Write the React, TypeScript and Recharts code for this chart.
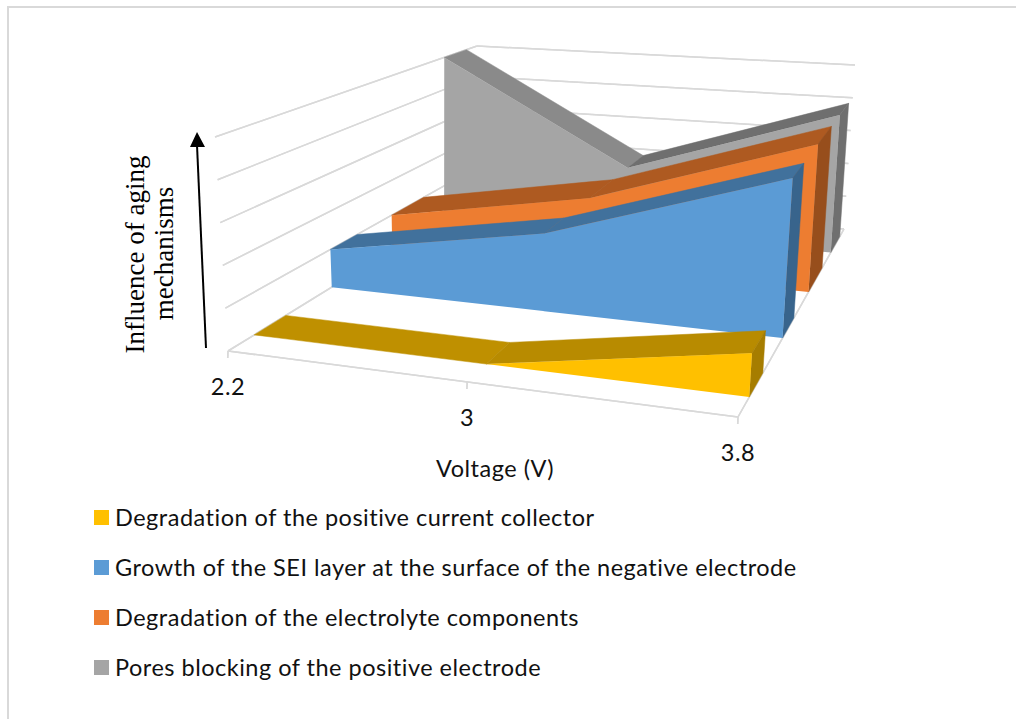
import { Area, ComposedChart, Legend, Line, ReferenceDot, XAxis, YAxis } from 'recharts'

const WIDTH = 1016
const HEIGHT = 719

// values
const voltages = ['2.2', '3', '3.8']
const collector = [0, 0, 1]
const sei = [1, 2, 4]
const electrolyte = [1, 2, 4]
const pores = [5, 2, 4]
const valueTicks = [0, 1, 2, 3, 4, 5]

const legendNames = [
  'Degradation of the positive current collector',
  'Growth of the SEI layer at the surface of the negative electrode',
  'Degradation of the electrolyte components',
  'Pores blocking of the positive electrode',
]

// camera: where the 3D box lands in the picture
const MAX_VALUE = 5
const FLOOR = { fl: [228, 351], fr: [738, 417], bl: [475, 199], br: [844, 229] }
const ROOF = { fl: [215, 137], fr: [752, 191], bl: [477, 46], br: [855, 65] }
const VOLTAGE_POS = [0, 0.469, 1]

type Pt = [number, number]

const mix = (a: number, b: number, t: number) => a + (b - a) * t

function corner(box: typeof FLOOR, u: number, w: number, i: number) {
  return mix(mix(box.fl[i], box.fr[i], u), mix(box.bl[i], box.br[i], u), w)
}

function project(u: number, w: number, value: number): Pt {
  const v = value / MAX_VALUE
  return [
    mix(corner(FLOOR, u, w, 0), corner(ROOF, u, w, 0), v),
    mix(corner(FLOOR, u, w, 1), corner(ROOF, u, w, 1), v),
  ]
}

// turns an x-monotone polygon into rows an Area can draw as a [low, high] band
function toBand(poly: Pt[]) {
  const xs = Array.from(new Set(poly.map((p) => p[0]))).sort((a, b) => a - b)
  return xs.map((x) => {
    const ys: number[] = []
    poly.forEach((p, i) => {
      const q = poly[(i + 1) % poly.length]
      const lo = Math.min(p[0], q[0])
      const hi = Math.max(p[0], q[0])
      if (x < lo || x > hi) return
      if (lo === hi) ys.push(p[1], q[1])
      else ys.push(mix(p[1], q[1], (x - p[0]) / (q[0] - p[0])))
    })
    return { x, band: [Math.min(...ys), Math.max(...ys)] }
  })
}

const ribbons = [
  { values: pores, front: 0.875, back: 0.96, face: '#A5A5A5', tops: ['#8A8A8A', '#6F6F6F'], side: '#6F6F6F' },
  { values: electrolyte, front: 0.665, back: 0.793, face: '#ED7D31', tops: ['#AE5A21', '#AE5A21'], side: '#974E1C' },
  { values: sei, front: 0.42, back: 0.527, face: '#5B9BD5', tops: ['#41719C', '#41719C'], side: '#38648C' },
  { values: collector, front: 0.106, back: 0.234, face: '#FFC000', tops: ['#BF9000', '#B88B00'], side: '#A67D00' },
]

const legendColors = ['#FFC000', '#5B9BD5', '#ED7D31', '#A5A5A5']

function ribbonFaces() {
  const faces: { id: string; fill: string; edge: string; rows: ReturnType<typeof toBand> }[] = []
  ribbons.forEach((r, n) => {
    r.tops.forEach((fill, i) => {
      const a = VOLTAGE_POS[i]
      const b = VOLTAGE_POS[i + 1]
      faces.push({
        id: `top-${n}-${i}`,
        fill,
        edge: fill,
        rows: toBand([
          project(a, r.front, r.values[i]),
          project(a, r.back, r.values[i]),
          project(b, r.back, r.values[i + 1]),
          project(b, r.front, r.values[i + 1]),
        ]),
      })
    })
    const last = r.values[r.values.length - 1]
    faces.push({
      id: `side-${n}`,
      fill: r.side,
      edge: r.side,
      rows: toBand([
        project(1, r.front, 0),
        project(1, r.front, last),
        project(1, r.back, last),
        project(1, r.back, 0),
      ]),
    })
    const topEdge = r.values.map((val, i) => project(VOLTAGE_POS[i], r.front, val))
    const bottomEdge = r.values.map((_, i) => project(VOLTAGE_POS[i], r.front, 0)).reverse()
    // no stroke here: a zero value would leave a coloured hairline along the floor
    faces.push({ id: `front-${n}`, fill: r.face, edge: 'none', rows: toBand([...topEdge, ...bottomEdge]) })
  })
  return faces
}

const toRows = (points: Pt[]) => points.map(([x, y]) => ({ x, y }))

// Lines always paint above Areas, so the wall grid is made of flat Areas to stay behind the ribbons
const gridLines: Pt[][] = [
  ...valueTicks.map((t) => [project(0, 0, t), project(0, 1, t)]),
  ...valueTicks.map((t) => [project(0, 1, t), project(1, 1, t)]),
  [project(0, 0, 0), project(1, 0, 0)],
  [project(1, 0, 0), project(1, 1, 0)],
  ...VOLTAGE_POS.map((u) => {
    const [x, y] = project(u, 0, 0)
    return [[x, y], [x - 0.3, y + 7]] as Pt[]
  }),
]

const tickLabels = voltages.map((label, i) => {
  const [x, y] = project(VOLTAGE_POS[i], 0, 0)
  return { label, x, y: y + 36 }
})

const labelFont = 'Lato'
const labelStyle = { fontFamily: labelFont, fontSize: 23.5, letterSpacing: 0.5, fill: '#111' }

function LegendList() {
  return (
    <div style={{ fontFamily: labelFont, fontSize: 23.5, letterSpacing: 0.5, color: '#111' }}>
      {legendNames.map((name, i) => (
        <div key={name} style={{ height: 50, display: 'flex', alignItems: 'center', whiteSpace: 'nowrap' }}>
          <span style={{ width: 15, height: 15, background: legendColors[i], marginRight: 6 }} />
          {name}
        </div>
      ))}
    </div>
  )
}

export default function App() {
  return (
    <div style={{ position: 'absolute', left: 0, top: 0, width: WIDTH, height: HEIGHT, overflow: 'hidden', background: '#fff' }}>
      <div style={{ position: 'absolute', left: 7, top: 6, right: 0, bottom: 0, borderLeft: '2px solid #D9D9D9', borderTop: '2px solid #D9D9D9' }} />
      <ComposedChart width={WIDTH} height={HEIGHT} margin={{ top: 0, right: 0, bottom: 0, left: 0 }} style={{ position: 'absolute', left: 0, top: 0 }}>
        <XAxis dataKey="x" type="number" domain={[0, WIDTH]} hide />
        <YAxis type="number" domain={[0, HEIGHT]} reversed hide />
        {gridLines.map((pts, i) => (
          <Area
            key={`grid-${i}`}
            data={toBand(pts)}
            dataKey="band"
            type="linear"
            fill="none"
            stroke="#D9D9D9"
            strokeWidth={1.5}
            dot={false}
            activeDot={false}
            legendType="none"
            isAnimationActive={false}
          />
        ))}
        {ribbonFaces().map((f) => (
          <Area
            key={f.id}
            data={f.rows}
            dataKey="band"
            type="linear"
            fill={f.fill}
            fillOpacity={1}
            stroke={f.edge}
            strokeWidth={0.5}
            dot={false}
            activeDot={false}
            legendType="none"
            isAnimationActive={false}
          />
        ))}
        <Line
          data={toRows([[206, 348], [197, 145]])}
          dataKey="y"
          stroke="#000"
          strokeWidth={2}
          dot={false}
          activeDot={false}
          legendType="none"
          isAnimationActive={false}
        />
        <Area
          data={toBand([[197, 132], [205, 147], [190, 147]])}
          dataKey="band"
          type="linear"
          fill="#000"
          fillOpacity={1}
          stroke="none"
          dot={false}
          activeDot={false}
          legendType="none"
          isAnimationActive={false}
        />
        {tickLabels.map((t) => (
          <ReferenceDot
            key={t.label}
            x={t.x}
            y={t.y}
            r={0}
            stroke="none"
            label={{ value: t.label, position: 'center', ...labelStyle }}
          />
        ))}
        <ReferenceDot
          x={495}
          y={469}
          r={0}
          stroke="none"
          label={{ value: 'Voltage (V)', position: 'center', ...labelStyle }}
        />
        <text
          transform="translate(144 254.5) rotate(-90)"
          textAnchor="middle"
          fontFamily="Liberation Serif"
          fontSize={27}
          fill="#000"
        >
          Influence of aging
        </text>
        <text
          transform="translate(173 253.5) rotate(-90)"
          textAnchor="middle"
          fontFamily="Liberation Serif"
          fontSize={27}
          fill="#000"
        >
          mechanisms
        </text>
        <Legend
          layout="vertical"
          align="center"
          verticalAlign="middle"
          content={<LegendList />}
          wrapperStyle={{ position: 'absolute', left: 94, top: 492, width: 800, height: 200 }}
        />
      </ComposedChart>
    </div>
  )
}
